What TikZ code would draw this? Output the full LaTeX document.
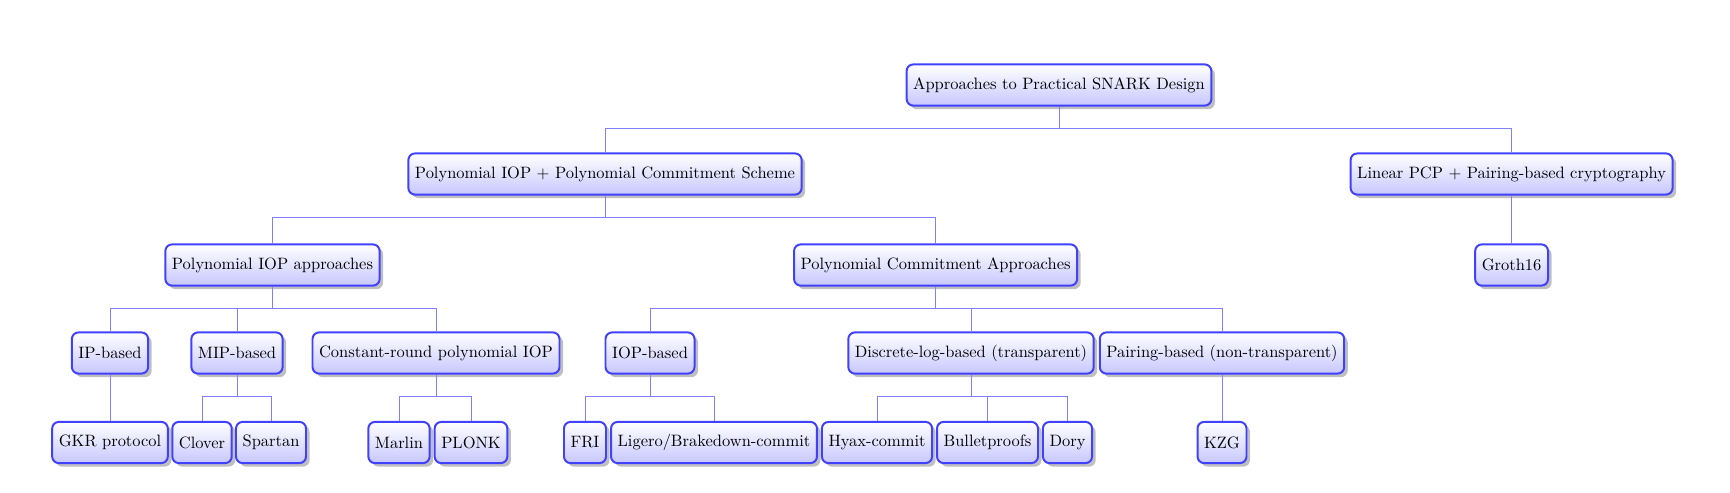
\documentclass[tikz,border=0pt]{standalone}
\usetikzlibrary{shadows,positioning}
\tikzset{box/.style={rectangle,rounded corners=4pt,draw=blue!75,line width=1.2pt,top color=white,bottom color=blue!22,drop shadow,inner xsep=4pt,minimum height=25pt}}
\tikzset{link/.style={draw=blue!50,line width=0.6pt}}
\begin{document}
\begin{tikzpicture}[x=0.607pt,y=0.607pt]
\useasboundingbox (0,0) rectangle (1730,-492);
% \draw[help lines] (0,0) grid (1730,-492);
\node (root) [box] at (1059,-85) {Approaches to Practical SNARK Design};
%
\node (pipc) [box] at (605,-174) {Polynomial IOP + Polynomial Commitment Scheme};
\node (lpcp) [box] at (1511.6,-174) {Linear PCP + Pairing-based cryptography};
%
\node (piop) [box] at (272.5,-265) {Polynomial IOP approaches};
\node (pcom) [box] at (935.6,-265) {Polynomial Commitment Approaches};
\node (groth) [box] at (1511.6,-265) {Groth16};
%
\node (ip) [box] at (110,-353) {IP-based};
\node (mip) [box] at (237,-353) {MIP-based};
\node (crp) [box] at (436,-353) {Constant-round polynomial IOP};
\node (iopb) [box] at (650,-353) {IOP-based};
\node (dlog) [box] at (971,-353) {Discrete-log-based (transparent)};
\node (pair) [box] at (1222,-353) {Pairing-based (non-transparent)};
%
\node (gkr) [box] at (110,-442.5) {GKR protocol};
\node (clover) [box] at (202,-442.5) {Clover};
\node (spartan) [box] at (271,-442.5) {Spartan};
\node (marlin) [box] at (399,-442.5) {Marlin};
\node (plonk) [box] at (471,-442.5) {PLONK};
\node (fri) [box] at (585,-442.5) {FRI};
\node (ligero) [box] at (714,-442.5) {Ligero/Brakedown-commit};
\node (hyax) [box] at (877,-442.5) {Hyax-commit};
\node (bullet) [box] at (987.5,-442.5) {Bulletproofs};
\node (dory) [box] at (1067.5,-442.5) {Dory};
\node (kzg) [box] at (1222,-442.5) {KZG};
%
\draw[link] (root.south) -- ++(0,-22) -| (pipc.north);
\draw[link] (root.south) -- ++(0,-22) -| (lpcp.north);
\draw[link] (pipc.south) -- ++(0,-22) -| (piop.north);
\draw[link] (pipc.south) -- ++(0,-22) -| (pcom.north);
\draw[link] (lpcp.south) -- (groth.north);
\draw[link] (piop.south) -- ++(0,-22) -| (ip.north);
\draw[link] (piop.south) -- ++(0,-22) -| (mip.north);
\draw[link] (piop.south) -- ++(0,-22) -| (crp.north);
\draw[link] (pcom.south) -- ++(0,-22) -| (iopb.north);
\draw[link] (pcom.south) -- ++(0,-22) -| (dlog.north);
\draw[link] (pcom.south) -- ++(0,-22) -| (pair.north);
\draw[link] (ip.south) -- (gkr.north);
\draw[link] (mip.south) -- ++(0,-22) -| (clover.north);
\draw[link] (mip.south) -- ++(0,-22) -| (spartan.north);
\draw[link] (crp.south) -- ++(0,-22) -| (marlin.north);
\draw[link] (crp.south) -- ++(0,-22) -| (plonk.north);
\draw[link] (iopb.south) -- ++(0,-22) -| (fri.north);
\draw[link] (iopb.south) -- ++(0,-22) -| (ligero.north);
\draw[link] (dlog.south) -- ++(0,-22) -| (hyax.north);
\draw[link] (dlog.south) -- ++(0,-22) -| (bullet.north);
\draw[link] (dlog.south) -- ++(0,-22) -| (dory.north);
\draw[link] (pair.south) -- (kzg.north);
%
\end{tikzpicture}
\end{document}
